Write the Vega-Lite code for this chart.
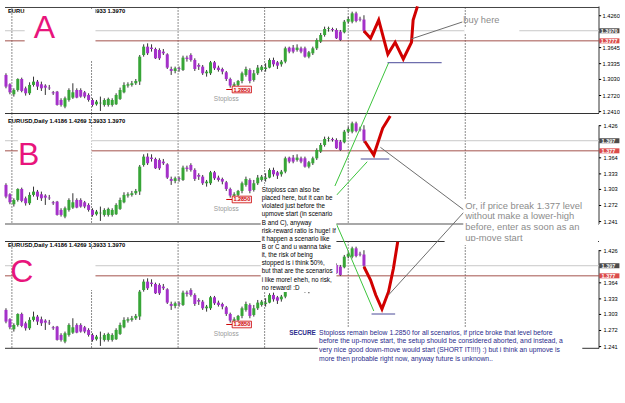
{
"$schema":"https://vega.github.io/schema/vega-lite/v6.json",
"padding":0,
"background":"white",
"spacing":0,
"bounds":"flush",
"config":{"view":{"stroke":null},"font":"Liberation Sans"},
"datasets":{
"seps":[{"i":2.5},{"i":22.75},{"i":44.75},{"i":66.75},{"i":88},{"i":117.75}],
"levels":[{"kind":"bid","p":1.397,"labA":"1.3970","lab":"1.397"},{"kind":"level","p":1.3775,"labA":"1.3777","lab":"1.377"}],
"axA":[{"p":1.426,"t":"1.4260"},{"p":1.3645,"t":"1.3645"},{"p":1.3335,"t":"1.3335"},{"p":1.303,"t":"1.3030"},{"p":1.272,"t":"1.2720"},{"p":1.241,"t":"1.2410"}],
"axBC":[{"p":1.426,"t":"1.426"},{"p":1.364,"t":"1.364"},{"p":1.333,"t":"1.333"},{"p":1.303,"t":"1.303"},{"p":1.272,"t":"1.272"},{"p":1.241,"t":"1.241"}],
"candles":[
{"i":1,"o":1.3117,"h":1.3149,"l":1.2859,"c":1.2892},
{"i":2,"o":1.2937,"h":1.2956,"l":1.2744,"c":1.2782},
{"i":3,"o":1.2744,"h":1.2859,"l":1.2699,"c":1.2827},
{"i":4,"o":1.2827,"h":1.3052,"l":1.2795,"c":1.3039},
{"i":5,"o":1.3039,"h":1.3065,"l":1.2782,"c":1.2808},
{"i":6,"o":1.2859,"h":1.2892,"l":1.2718,"c":1.2763},
{"i":7,"o":1.2763,"h":1.2975,"l":1.2731,"c":1.2924},
{"i":8,"o":1.2924,"h":1.3084,"l":1.2892,"c":1.2988},
{"i":9,"o":1.2988,"h":1.302,"l":1.2827,"c":1.2892},
{"i":10,"o":1.2937,"h":1.2988,"l":1.2808,"c":1.2859},
{"i":11,"o":1.2911,"h":1.2937,"l":1.2731,"c":1.2872},
{"i":12,"o":1.2872,"h":1.2924,"l":1.2827,"c":1.2859},
{"i":13,"o":1.2782,"h":1.2808,"l":1.2731,"c":1.2763},
{"i":14,"o":1.2795,"h":1.2808,"l":1.2525,"c":1.2538},
{"i":15,"o":1.2634,"h":1.2667,"l":1.2506,"c":1.2538},
{"i":16,"o":1.2506,"h":1.2699,"l":1.2474,"c":1.2667},
{"i":17,"o":1.2634,"h":1.2859,"l":1.2602,"c":1.2827},
{"i":18,"o":1.2679,"h":1.2956,"l":1.2654,"c":1.2782},
{"i":19,"o":1.2827,"h":1.2859,"l":1.2667,"c":1.2679},
{"i":20,"o":1.2827,"h":1.2859,"l":1.2679,"c":1.2699},
{"i":21,"o":1.2782,"h":1.2808,"l":1.2667,"c":1.2699},
{"i":22,"o":1.2731,"h":1.2763,"l":1.2602,"c":1.2634},
{"i":23,"o":1.2634,"h":1.2667,"l":1.2506,"c":1.2538},
{"i":24,"o":1.2551,"h":1.2634,"l":1.2525,"c":1.2602},
{"i":25,"o":1.257,"h":1.2699,"l":1.2422,"c":1.258},
{"i":26,"o":1.2538,"h":1.2667,"l":1.2506,"c":1.2634},
{"i":27,"o":1.2538,"h":1.2679,"l":1.2506,"c":1.2654},
{"i":28,"o":1.2538,"h":1.2667,"l":1.2506,"c":1.2634},
{"i":29,"o":1.2551,"h":1.2763,"l":1.2538,"c":1.2731},
{"i":30,"o":1.2654,"h":1.2872,"l":1.2634,"c":1.2827},
{"i":31,"o":1.2782,"h":1.2975,"l":1.2763,"c":1.2924},
{"i":32,"o":1.2911,"h":1.2975,"l":1.2872,"c":1.2937},
{"i":33,"o":1.2924,"h":1.3001,"l":1.2892,"c":1.2956},
{"i":34,"o":1.2956,"h":1.3039,"l":1.2924,"c":1.3001},
{"i":35,"o":1.299,"h":1.3502,"l":1.2924,"c":1.347},
{"i":36,"o":1.3502,"h":1.3708,"l":1.347,"c":1.3663},
{"i":37,"o":1.3663,"h":1.3727,"l":1.3502,"c":1.3535},
{"i":38,"o":1.3644,"h":1.3708,"l":1.3567,"c":1.3618},
{"i":39,"o":1.3618,"h":1.3644,"l":1.3425,"c":1.3438},
{"i":40,"o":1.3599,"h":1.3631,"l":1.3406,"c":1.3438},
{"i":41,"o":1.3567,"h":1.3618,"l":1.3502,"c":1.3535},
{"i":42,"o":1.3515,"h":1.3535,"l":1.3232,"c":1.3258},
{"i":43,"o":1.3232,"h":1.3277,"l":1.3117,"c":1.3194},
{"i":44,"o":1.3194,"h":1.3277,"l":1.3149,"c":1.3245},
{"i":45,"o":1.3245,"h":1.328,"l":1.318,"c":1.323},
{"i":46,"o":1.3213,"h":1.3489,"l":1.3194,"c":1.3451},
{"i":47,"o":1.3451,"h":1.3489,"l":1.3374,"c":1.3425},
{"i":48,"o":1.3502,"h":1.3535,"l":1.3374,"c":1.3406},
{"i":49,"o":1.3406,"h":1.3438,"l":1.3194,"c":1.3232},
{"i":50,"o":1.3309,"h":1.3342,"l":1.3213,"c":1.3277},
{"i":51,"o":1.3277,"h":1.3309,"l":1.3117,"c":1.3149},
{"i":52,"o":1.3149,"h":1.3213,"l":1.3084,"c":1.3181},
{"i":53,"o":1.3149,"h":1.3387,"l":1.3117,"c":1.3361},
{"i":54,"o":1.3361,"h":1.3387,"l":1.3213,"c":1.3245},
{"i":55,"o":1.3258,"h":1.3296,"l":1.3181,"c":1.3213},
{"i":56,"o":1.3232,"h":1.3258,"l":1.3129,"c":1.3181},
{"i":57,"o":1.3168,"h":1.3194,"l":1.3001,"c":1.3039},
{"i":58,"o":1.3039,"h":1.3065,"l":1.2872,"c":1.2911},
{"i":59,"o":1.2911,"h":1.2975,"l":1.285,"c":1.2937},
{"i":60,"o":1.2924,"h":1.302,"l":1.2892,"c":1.3001},
{"i":61,"o":1.3001,"h":1.3181,"l":1.2956,"c":1.3149},
{"i":62,"o":1.3117,"h":1.3277,"l":1.3084,"c":1.3232},
{"i":63,"o":1.3213,"h":1.3245,"l":1.2956,"c":1.3001},
{"i":64,"o":1.302,"h":1.3213,"l":1.2988,"c":1.3149},
{"i":65,"o":1.3149,"h":1.3309,"l":1.3117,"c":1.3258},
{"i":66,"o":1.3213,"h":1.3309,"l":1.3181,"c":1.3277},
{"i":67,"o":1.3232,"h":1.3342,"l":1.3181,"c":1.3258},
{"i":68,"o":1.3258,"h":1.3438,"l":1.3245,"c":1.3406},
{"i":69,"o":1.3406,"h":1.3451,"l":1.3277,"c":1.3322},
{"i":70,"o":1.3361,"h":1.3387,"l":1.3232,"c":1.3296},
{"i":71,"o":1.3322,"h":1.3406,"l":1.3277,"c":1.3374},
{"i":72,"o":1.3374,"h":1.3663,"l":1.3342,"c":1.3631},
{"i":73,"o":1.3644,"h":1.3663,"l":1.3535,"c":1.3567},
{"i":74,"o":1.3644,"h":1.3695,"l":1.3535,"c":1.3567},
{"i":75,"o":1.3599,"h":1.3708,"l":1.3567,"c":1.3644},
{"i":76,"o":1.3631,"h":1.3663,"l":1.3535,"c":1.3567},
{"i":77,"o":1.3631,"h":1.3663,"l":1.3451,"c":1.347},
{"i":78,"o":1.347,"h":1.358,"l":1.3438,"c":1.3554},
{"i":79,"o":1.3535,"h":1.3663,"l":1.3502,"c":1.3631},
{"i":80,"o":1.3631,"h":1.3824,"l":1.3599,"c":1.3792},
{"i":81,"o":1.376,"h":1.3927,"l":1.3733,"c":1.3888},
{"i":82,"o":1.3888,"h":1.4049,"l":1.3856,"c":1.4004},
{"i":83,"o":1.4004,"h":1.4049,"l":1.3953,"c":1.4017},
{"i":84,"o":1.4004,"h":1.403,"l":1.3953,"c":1.3985},
{"i":85,"o":1.3985,"h":1.4017,"l":1.3811,"c":1.3824},
{"i":86,"o":1.3953,"h":1.3985,"l":1.3772,"c":1.3792},
{"i":87,"o":1.394,"h":1.4178,"l":1.392,"c":1.4145},
{"i":88,"o":1.4145,"h":1.4242,"l":1.4113,"c":1.4197},
{"i":89,"o":1.4145,"h":1.4338,"l":1.4113,"c":1.4306},
{"i":90,"o":1.4306,"h":1.4338,"l":1.4132,"c":1.4158},
{"i":91,"o":1.42,"h":1.424,"l":1.415,"c":1.4186},
{"i":92,"o":1.4186,"h":1.4269,"l":1.3933,"c":1.397}
],
"red":[
{"panel":"A","k":1,"i":92,"p":1.3965},{"panel":"A","k":2,"i":93.68,"p":1.3824},{"panel":"A","k":3,"i":95.75,"p":1.4177},{"panel":"A","k":4,"i":98.08,"p":1.3515},{"panel":"A","k":5,"i":99.93,"p":1.3747},{"panel":"A","k":6,"i":102,"p":1.3425},{"panel":"A","k":7,"i":104.08,"p":1.3747},{"panel":"A","k":8,"i":104.5,"p":1.4177},{"panel":"A","k":9,"i":105.6,"p":1.444},
{"panel":"B","k":1,"i":92.2,"p":1.396},{"panel":"B","k":2,"i":94.5,"p":1.3695},{"panel":"B","k":3,"i":96.75,"p":1.421},{"panel":"B","k":4,"i":98.68,"p":1.4447},
{"panel":"C","k":1,"i":92,"p":1.3951},{"panel":"C","k":2,"i":93.68,"p":1.3695},{"panel":"C","k":3,"i":95,"p":1.3405},{"panel":"C","k":4,"i":96.58,"p":1.3135},{"panel":"C","k":5,"i":98.25,"p":1.3469},{"panel":"C","k":6,"i":99.5,"p":1.392},{"panel":"C","k":7,"i":100.58,"p":1.4434}
],
"segs":[
{"panel":"A","kind":"navy","i":98,"p":1.3353,"i2":111.75,"p2":1.3353},
{"panel":"A","kind":"green","i":98.25,"p":1.3348,"i2":92.75,"p2":1.23825},
{"panel":"A","kind":"gray","i":104,"p":1.3811,"i2":117,"p2":1.4139},
{"panel":"B","kind":"navy","i":91.18,"p":1.3617,"i2":98.43,"p2":1.3617},
{"panel":"B","kind":"green","i":92.75,"p":1.4505,"i2":84.5,"p2":1.3077},
{"panel":"B","kind":"green","i":92.83,"p":1.3565,"i2":85.08,"p2":1.2923},
{"panel":"B","kind":"green","i":85,"p":1.2363,"i2":86.9,"p2":1.2035},
{"panel":"B","kind":"gray","i":96.18,"p":1.3843,"i2":117.43,"p2":1.2633},
{"panel":"B","kind":"gray","i":117.43,"p":1.2594,"i2":110.75,"p2":1.2035},
{"panel":"C","kind":"navy","i":93.93,"p":1.3038,"i2":99.93,"p2":1.3038},
{"panel":"C","kind":"green","i":86.9,"p":1.4447,"i2":94.5,"p2":1.3096},
{"panel":"C","kind":"gray","i":110.75,"p":1.4447,"i2":98.25,"p2":1.3405}
]
},
"vconcat":[
{
"width":604,"height":108,
"data":{"values":[{}]},
"resolve":{"scale":{"color":"independent","size":"independent"}},
"layer":[
{"data":{"name":"seps"},"mark":{"type":"rule","color":"#1a1a1a","strokeDash":[1,2]},"encoding":{"x":{"field":"i","type":"quantitative","scale":{"domain":[0.75,151.75],"nice":false,"zero":false},"axis":null},"y":{"datum":1.44187,"type":"quantitative","scale":{"domain":[1.23825,1.44669],"nice":false,"zero":false},"axis":null},"y2":{"datum":1.23825}}},
{"mark":{"type":"rule","color":"#444"},"encoding":{"x":{"datum":0.75,"type":"quantitative","scale":{"domain":[0.75,151.75],"nice":false,"zero":false},"axis":null},"x2":{"datum":151.75},"y":{"datum":1.44187,"type":"quantitative","scale":{"domain":[1.23825,1.44669],"nice":false,"zero":false},"axis":null}}},
{"mark":{"type":"rule","color":"#333"},"encoding":{"x":{"datum":151.75,"type":"quantitative","scale":{"domain":[0.75,151.75],"nice":false,"zero":false},"axis":null},"y":{"datum":1.4438,"type":"quantitative","scale":{"domain":[1.23825,1.44669],"nice":false,"zero":false},"axis":null},"y2":{"datum":1.23825}}},
{"data":{"name":"axA"},"mark":{"type":"rule","color":"#000"},"encoding":{"x":{"datum":151.75,"type":"quantitative","scale":{"domain":[0.75,151.75],"nice":false,"zero":false},"axis":null},"x2":{"datum":152.3},"y":{"field":"p","type":"quantitative","scale":{"domain":[1.23825,1.44669],"nice":false,"zero":false},"axis":null}}},
{"data":{"name":"axA"},"mark":{"type":"text","fontSize":5.7,"color":"#000","align":"left","baseline":"middle"},"encoding":{"x":{"datum":152.65,"type":"quantitative","scale":{"domain":[0.75,151.75],"nice":false,"zero":false},"axis":null},"y":{"field":"p","type":"quantitative","scale":{"domain":[1.23825,1.44669],"nice":false,"zero":false},"axis":null},"text":{"field":"t"}}},
{"data":{"name":"levels"},"mark":{"type":"rule"},"encoding":{"x":{"datum":0.75,"type":"quantitative","scale":{"domain":[0.75,151.75],"nice":false,"zero":false},"axis":null},"x2":{"datum":151.75},"y":{"field":"p","type":"quantitative","scale":{"domain":[1.23825,1.44669],"nice":false,"zero":false},"axis":null},"color":{"field":"kind","type":"nominal","scale":{"domain":["bid","level"],"range":["#c8c8c8","#a3524c"]},"legend":null}}},
{"data":{"name":"candles"},"mark":{"type":"rule","color":"#333"},"encoding":{"x":{"field":"i","type":"quantitative","scale":{"domain":[0.75,151.75],"nice":false,"zero":false},"axis":null},"y":{"field":"l","type":"quantitative","scale":{"domain":[1.23825,1.44669],"nice":false,"zero":false},"axis":null},"y2":{"field":"h"}}},
{"data":{"name":"candles"},"mark":{"type":"bar","size":3},"encoding":{"x":{"field":"i","type":"quantitative","scale":{"domain":[0.75,151.75],"nice":false,"zero":false},"axis":null},"y":{"field":"o","type":"quantitative","scale":{"domain":[1.23825,1.44669],"nice":false,"zero":false},"axis":null},"y2":{"field":"c"},"color":{"condition":{"test":"datum.c >= datum.o","value":"#37a537"},"value":"#a431c9"}}},
{"data":{"name":"red"},"transform":[{"filter":"datum.panel === 'A'"}],"mark":{"type":"line","color":"#d10000","strokeWidth":3},"encoding":{"x":{"field":"i","type":"quantitative","scale":{"domain":[0.75,151.75],"nice":false,"zero":false},"axis":null},"y":{"field":"p","type":"quantitative","scale":{"domain":[1.23825,1.44669],"nice":false,"zero":false},"axis":null},"order":{"field":"k"}}},
{"data":{"name":"segs"},"transform":[{"filter":"datum.panel === 'A'"}],"mark":{"type":"rule"},"encoding":{"x":{"field":"i","type":"quantitative","scale":{"domain":[0.75,151.75],"nice":false,"zero":false},"axis":null},"x2":{"field":"i2"},"y":{"field":"p","type":"quantitative","scale":{"domain":[1.23825,1.44669],"nice":false,"zero":false},"axis":null},"y2":{"field":"p2"},"color":{"field":"kind","type":"nominal","scale":{"domain":["green","gray","navy"],"range":["#3cc43c","#6e6e6e","#4a4a98"]},"legend":null},"size":{"field":"kind","type":"ordinal","scale":{"domain":["green","gray","navy"],"range":[1,1,2]},"legend":null}}},
{"mark":{"type":"text","fontSize":6.5,"color":"#9a9a9a","align":"center","baseline":"middle"},"encoding":{"x":{"datum":57,"type":"quantitative","scale":{"domain":[0.75,151.75],"nice":false,"zero":false},"axis":null},"y":{"datum":1.2652,"type":"quantitative","scale":{"domain":[1.23825,1.44669],"nice":false,"zero":false},"axis":null},"text":{"value":"Stoploss"}}},
{"mark":{"type":"rule","color":"#cc0000"},"encoding":{"x":{"datum":57,"type":"quantitative","scale":{"domain":[0.75,151.75],"nice":false,"zero":false},"axis":null},"x2":{"datum":58.5},"y":{"datum":1.2836,"type":"quantitative","scale":{"domain":[1.23825,1.44669],"nice":false,"zero":false},"axis":null}}},
{"mark":{"type":"rect","fill":"#fff0f0","stroke":"#cc0000","strokeWidth":0.8},"encoding":{"x":{"datum":58.5,"type":"quantitative","scale":{"domain":[0.75,151.75],"nice":false,"zero":false},"axis":null},"x2":{"datum":63.4},"y":{"datum":1.29,"type":"quantitative","scale":{"domain":[1.23825,1.44669],"nice":false,"zero":false},"axis":null},"y2":{"datum":1.2772}}},
{"mark":{"type":"text","fontSize":5.5,"fontWeight":"bold","color":"#cc0000","align":"center","baseline":"middle"},"encoding":{"x":{"datum":60.95,"type":"quantitative","scale":{"domain":[0.75,151.75],"nice":false,"zero":false},"axis":null},"y":{"datum":1.2836,"type":"quantitative","scale":{"domain":[1.23825,1.44669],"nice":false,"zero":false},"axis":null},"text":{"value":"1.2850"}}},
{"mark":{"type":"text","fontSize":5.8,"fontWeight":"bold","color":"#000","align":"left","baseline":"middle"},"encoding":{"x":{"datum":1.5,"type":"quantitative","scale":{"domain":[0.75,151.75],"nice":false,"zero":false},"axis":null},"y":{"datum":1.43511,"type":"quantitative","scale":{"domain":[1.23825,1.44669],"nice":false,"zero":false},"axis":null},"text":{"value":"EURUSD,Daily 1.4186 1.4269 1.3933 1.3970"}}},
{"mark":{"type":"rect","fill":"white"},"encoding":{"x":{"datum":5.75,"type":"quantitative","scale":{"domain":[0.75,151.75],"nice":false,"zero":false},"axis":null},"x2":{"datum":23.75},"y":{"datum":1.43897,"type":"quantitative","scale":{"domain":[1.23825,1.44669],"nice":false,"zero":false},"axis":null},"y2":{"datum":1.3405}}},
{"mark":{"type":"rect","fill":"white"},"encoding":{"x":{"datum":117.5,"type":"quantitative","scale":{"domain":[0.75,151.75],"nice":false,"zero":false},"axis":null},"x2":{"datum":131.5},"y":{"datum":1.4023,"type":"quantitative","scale":{"domain":[1.23825,1.44669],"nice":false,"zero":false},"axis":null},"y2":{"datum":1.3907}}},
{"mark":{"type":"text","fontSize":32,"color":"#e8157c","align":"center","baseline":"alphabetic"},"encoding":{"x":{"datum":10.75,"type":"quantitative","scale":{"domain":[0.75,151.75],"nice":false,"zero":false},"axis":null},"y":{"datum":1.383,"type":"quantitative","scale":{"domain":[1.23825,1.44669],"nice":false,"zero":false},"axis":null},"text":{"value":"A"}}},
{"mark":{"type":"text","fontSize":9.3,"color":"#8c8c8c","align":"left","baseline":"middle"},"encoding":{"x":{"datum":117.25,"type":"quantitative","scale":{"domain":[0.75,151.75],"nice":false,"zero":false},"axis":null},"y":{"datum":1.41774,"type":"quantitative","scale":{"domain":[1.23825,1.44669],"nice":false,"zero":false},"axis":null},"text":{"value":"buy here"}}},
{"data":{"name":"levels"},"mark":{"type":"tick","orient":"horizontal","size":20,"thickness":5},"encoding":{"x":{"datum":154.4,"type":"quantitative","scale":{"domain":[0.75,151.75],"nice":false,"zero":false},"axis":null},"y":{"field":"p","type":"quantitative","scale":{"domain":[1.23825,1.44669],"nice":false,"zero":false},"axis":null},"color":{"field":"kind","type":"nominal","scale":{"domain":["bid","level"],"range":["#000000","#cc0000"]},"legend":null}}},
{"data":{"name":"levels"},"mark":{"type":"text","fontSize":5.5,"fontWeight":"bold","color":"white","align":"left","baseline":"middle"},"encoding":{"x":{"datum":152.2,"type":"quantitative","scale":{"domain":[0.75,151.75],"nice":false,"zero":false},"axis":null},"y":{"field":"p","type":"quantitative","scale":{"domain":[1.23825,1.44669],"nice":false,"zero":false},"axis":null},"text":{"field":"labA"}}}
]
},
{
"width":604,"height":128,
"data":{"values":[{}]},
"resolve":{"scale":{"color":"independent","size":"independent"}},
"layer":[
{"data":{"name":"seps"},"mark":{"type":"rule","color":"#1a1a1a","strokeDash":[1,2]},"encoding":{"x":{"field":"i","type":"quantitative","scale":{"domain":[0.75,151.75],"nice":false,"zero":false},"axis":null},"y":{"datum":1.44954,"type":"quantitative","scale":{"domain":[1.20347,1.45051],"nice":false,"zero":false},"axis":null},"y2":{"datum":1.23628}}},
{"mark":{"type":"rule","color":"#333"},"encoding":{"x":{"datum":0.75,"type":"quantitative","scale":{"domain":[0.75,151.75],"nice":false,"zero":false},"axis":null},"x2":{"datum":151.75},"y":{"datum":1.44954,"type":"quantitative","scale":{"domain":[1.20347,1.45051],"nice":false,"zero":false},"axis":null}}},
{"mark":{"type":"rule","color":"#333"},"encoding":{"x":{"datum":151.75,"type":"quantitative","scale":{"domain":[0.75,151.75],"nice":false,"zero":false},"axis":null},"y":{"datum":1.42677,"type":"quantitative","scale":{"domain":[1.20347,1.45051],"nice":false,"zero":false},"axis":null},"y2":{"datum":1.23628}}},
{"mark":{"type":"rule","color":"#a8a8a8","strokeWidth":2},"encoding":{"x":{"datum":0.75,"type":"quantitative","scale":{"domain":[0.75,151.75],"nice":false,"zero":false},"axis":null},"x2":{"datum":151.75},"y":{"datum":1.23628,"type":"quantitative","scale":{"domain":[1.20347,1.45051],"nice":false,"zero":false},"axis":null}}},
{"data":{"name":"axBC"},"mark":{"type":"rule","color":"#000"},"encoding":{"x":{"datum":151.75,"type":"quantitative","scale":{"domain":[0.75,151.75],"nice":false,"zero":false},"axis":null},"x2":{"datum":152.3},"y":{"field":"p","type":"quantitative","scale":{"domain":[1.20347,1.45051],"nice":false,"zero":false},"axis":null}}},
{"data":{"name":"axBC"},"mark":{"type":"text","fontSize":5.7,"color":"#000","align":"left","baseline":"middle"},"encoding":{"x":{"datum":152.9,"type":"quantitative","scale":{"domain":[0.75,151.75],"nice":false,"zero":false},"axis":null},"y":{"field":"p","type":"quantitative","scale":{"domain":[1.20347,1.45051],"nice":false,"zero":false},"axis":null},"text":{"field":"t"}}},
{"data":{"name":"levels"},"mark":{"type":"rule"},"encoding":{"x":{"datum":0.75,"type":"quantitative","scale":{"domain":[0.75,151.75],"nice":false,"zero":false},"axis":null},"x2":{"datum":151.75},"y":{"field":"p","type":"quantitative","scale":{"domain":[1.20347,1.45051],"nice":false,"zero":false},"axis":null},"color":{"field":"kind","type":"nominal","scale":{"domain":["bid","level"],"range":["#c8c8c8","#a3524c"]},"legend":null}}},
{"data":{"name":"candles"},"mark":{"type":"rule","color":"#333"},"encoding":{"x":{"field":"i","type":"quantitative","scale":{"domain":[0.75,151.75],"nice":false,"zero":false},"axis":null},"y":{"field":"l","type":"quantitative","scale":{"domain":[1.20347,1.45051],"nice":false,"zero":false},"axis":null},"y2":{"field":"h"}}},
{"data":{"name":"candles"},"mark":{"type":"bar","size":3},"encoding":{"x":{"field":"i","type":"quantitative","scale":{"domain":[0.75,151.75],"nice":false,"zero":false},"axis":null},"y":{"field":"o","type":"quantitative","scale":{"domain":[1.20347,1.45051],"nice":false,"zero":false},"axis":null},"y2":{"field":"c"},"color":{"condition":{"test":"datum.c >= datum.o","value":"#37a537"},"value":"#a431c9"}}},
{"data":{"name":"red"},"transform":[{"filter":"datum.panel === 'B'"}],"mark":{"type":"line","color":"#d10000","strokeWidth":3},"encoding":{"x":{"field":"i","type":"quantitative","scale":{"domain":[0.75,151.75],"nice":false,"zero":false},"axis":null},"y":{"field":"p","type":"quantitative","scale":{"domain":[1.20347,1.45051],"nice":false,"zero":false},"axis":null},"order":{"field":"k"}}},
{"data":{"name":"segs"},"transform":[{"filter":"datum.panel === 'B'"}],"mark":{"type":"rule"},"encoding":{"x":{"field":"i","type":"quantitative","scale":{"domain":[0.75,151.75],"nice":false,"zero":false},"axis":null},"x2":{"field":"i2"},"y":{"field":"p","type":"quantitative","scale":{"domain":[1.20347,1.45051],"nice":false,"zero":false},"axis":null},"y2":{"field":"p2"},"color":{"field":"kind","type":"nominal","scale":{"domain":["green","gray","navy"],"range":["#3cc43c","#6e6e6e","#4a4a98"]},"legend":null},"size":{"field":"kind","type":"ordinal","scale":{"domain":["green","gray","navy"],"range":[1,1,2]},"legend":null}}},
{"mark":{"type":"text","fontSize":6.5,"color":"#9a9a9a","align":"center","baseline":"middle"},"encoding":{"x":{"datum":57,"type":"quantitative","scale":{"domain":[0.75,151.75],"nice":false,"zero":false},"axis":null},"y":{"datum":1.2652,"type":"quantitative","scale":{"domain":[1.20347,1.45051],"nice":false,"zero":false},"axis":null},"text":{"value":"Stoploss"}}},
{"mark":{"type":"rule","color":"#cc0000"},"encoding":{"x":{"datum":57,"type":"quantitative","scale":{"domain":[0.75,151.75],"nice":false,"zero":false},"axis":null},"x2":{"datum":58.5},"y":{"datum":1.2836,"type":"quantitative","scale":{"domain":[1.20347,1.45051],"nice":false,"zero":false},"axis":null}}},
{"mark":{"type":"rect","fill":"#fff0f0","stroke":"#cc0000","strokeWidth":0.8},"encoding":{"x":{"datum":58.5,"type":"quantitative","scale":{"domain":[0.75,151.75],"nice":false,"zero":false},"axis":null},"x2":{"datum":63.4},"y":{"datum":1.29,"type":"quantitative","scale":{"domain":[1.20347,1.45051],"nice":false,"zero":false},"axis":null},"y2":{"datum":1.2772}}},
{"mark":{"type":"text","fontSize":5.5,"fontWeight":"bold","color":"#cc0000","align":"center","baseline":"middle"},"encoding":{"x":{"datum":60.95,"type":"quantitative","scale":{"domain":[0.75,151.75],"nice":false,"zero":false},"axis":null},"y":{"datum":1.2836,"type":"quantitative","scale":{"domain":[1.20347,1.45051],"nice":false,"zero":false},"axis":null},"text":{"value":"1.2850"}}},
{"mark":{"type":"text","fontSize":5.8,"fontWeight":"bold","color":"#000","align":"left","baseline":"middle"},"encoding":{"x":{"datum":1.5,"type":"quantitative","scale":{"domain":[0.75,151.75],"nice":false,"zero":false},"axis":null},"y":{"datum":1.43507,"type":"quantitative","scale":{"domain":[1.20347,1.45051],"nice":false,"zero":false},"axis":null},"text":{"value":"EURUSD,Daily 1.4186 1.4269 1.3933 1.3970"}}},
{"mark":{"type":"rect","fill":"white"},"encoding":{"x":{"datum":4,"type":"quantitative","scale":{"domain":[0.75,151.75],"nice":false,"zero":false},"axis":null},"x2":{"datum":22.75},"y":{"datum":1.4235,"type":"quantitative","scale":{"domain":[1.20347,1.45051],"nice":false,"zero":false},"axis":null},"y2":{"datum":1.3308}}},
{"mark":{"type":"rect","fill":"white"},"encoding":{"x":{"datum":65.75,"type":"quantitative","scale":{"domain":[0.75,151.75],"nice":false,"zero":false},"axis":null},"x2":{"datum":85},"y":{"datum":1.30962,"type":"quantitative","scale":{"domain":[1.20347,1.45051],"nice":false,"zero":false},"axis":null},"y2":{"datum":1.20347}}},
{"mark":{"type":"rect","fill":"white"},"encoding":{"x":{"datum":117.25,"type":"quantitative","scale":{"domain":[0.75,151.75],"nice":false,"zero":false},"axis":null},"x2":{"datum":151.5},"y":{"datum":1.28453,"type":"quantitative","scale":{"domain":[1.20347,1.45051],"nice":false,"zero":false},"axis":null},"y2":{"datum":1.20347}}},
{"mark":{"type":"text","fontSize":32,"color":"#e8157c","align":"center","baseline":"alphabetic"},"encoding":{"x":{"datum":6.75,"type":"quantitative","scale":{"domain":[0.75,151.75],"nice":false,"zero":false},"axis":null},"y":{"datum":1.35015,"type":"quantitative","scale":{"domain":[1.20347,1.45051],"nice":false,"zero":false},"axis":null},"text":{"value":"B"}}},
{"mark":{"type":"text","fontSize":6.3,"color":"#000","align":"left","baseline":"top","lineHeight":8.14},"encoding":{"x":{"datum":66,"type":"quantitative","scale":{"domain":[0.75,151.75],"nice":false,"zero":false},"axis":null},"y":{"datum":1.30769,"type":"quantitative","scale":{"domain":[1.20347,1.45051],"nice":false,"zero":false},"axis":null},"text":{"value":["Stoploss can also be","placed here, but it can be","violated just before the","upmove start (in scenario","B and C), anyway","risk-reward ratio is huge! If"]}}},
{"mark":{"type":"text","fontSize":9.4,"color":"#8c8c8c","align":"left","baseline":"top","lineHeight":10.6},"encoding":{"x":{"datum":117.75,"type":"quantitative","scale":{"domain":[0.75,151.75],"nice":false,"zero":false},"axis":null},"y":{"datum":1.2793,"type":"quantitative","scale":{"domain":[1.20347,1.45051],"nice":false,"zero":false},"axis":null},"text":{"value":["Or, if price break 1.377 level","without make a lower-high","before, enter as soon as an","up-move start"]}}},
{"data":{"name":"levels"},"mark":{"type":"tick","orient":"horizontal","size":20,"thickness":5},"encoding":{"x":{"datum":154.4,"type":"quantitative","scale":{"domain":[0.75,151.75],"nice":false,"zero":false},"axis":null},"y":{"field":"p","type":"quantitative","scale":{"domain":[1.20347,1.45051],"nice":false,"zero":false},"axis":null},"color":{"field":"kind","type":"nominal","scale":{"domain":["bid","level"],"range":["#000000","#cc0000"]},"legend":null}}},
{"data":{"name":"levels"},"mark":{"type":"text","fontSize":5.5,"fontWeight":"bold","color":"white","align":"left","baseline":"middle"},"encoding":{"x":{"datum":152.4,"type":"quantitative","scale":{"domain":[0.75,151.75],"nice":false,"zero":false},"axis":null},"y":{"field":"p","type":"quantitative","scale":{"domain":[1.20347,1.45051],"nice":false,"zero":false},"axis":null},"text":{"field":"lab"}}}
]
},
{
"width":604,"height":167,
"data":{"values":[{}]},
"resolve":{"scale":{"color":"independent","size":"independent"}},
"layer":[
{"data":{"name":"seps"},"mark":{"type":"rule","color":"#1a1a1a","strokeDash":[1,2]},"encoding":{"x":{"field":"i","type":"quantitative","scale":{"domain":[0.75,151.75],"nice":false,"zero":false},"axis":null},"y":{"datum":1.44375,"type":"quantitative","scale":{"domain":[1.12241,1.44472],"nice":false,"zero":false},"axis":null},"y2":{"datum":1.23763}}},
{"mark":{"type":"rule","color":"#333"},"encoding":{"x":{"datum":0.75,"type":"quantitative","scale":{"domain":[0.75,151.75],"nice":false,"zero":false},"axis":null},"x2":{"datum":151.75},"y":{"datum":1.44375,"type":"quantitative","scale":{"domain":[1.12241,1.44472],"nice":false,"zero":false},"axis":null}}},
{"mark":{"type":"rule","color":"#333"},"encoding":{"x":{"datum":151.75,"type":"quantitative","scale":{"domain":[0.75,151.75],"nice":false,"zero":false},"axis":null},"y":{"datum":1.42735,"type":"quantitative","scale":{"domain":[1.12241,1.44472],"nice":false,"zero":false},"axis":null},"y2":{"datum":1.23763}}},
{"mark":{"type":"rule","color":"#333"},"encoding":{"x":{"datum":0.75,"type":"quantitative","scale":{"domain":[0.75,151.75],"nice":false,"zero":false},"axis":null},"x2":{"datum":151.75},"y":{"datum":1.23763,"type":"quantitative","scale":{"domain":[1.12241,1.44472],"nice":false,"zero":false},"axis":null}}},
{"data":{"name":"axBC"},"mark":{"type":"rule","color":"#000"},"encoding":{"x":{"datum":151.75,"type":"quantitative","scale":{"domain":[0.75,151.75],"nice":false,"zero":false},"axis":null},"x2":{"datum":152.3},"y":{"field":"p","type":"quantitative","scale":{"domain":[1.12241,1.44472],"nice":false,"zero":false},"axis":null}}},
{"data":{"name":"axBC"},"mark":{"type":"text","fontSize":5.7,"color":"#000","align":"left","baseline":"middle"},"encoding":{"x":{"datum":152.9,"type":"quantitative","scale":{"domain":[0.75,151.75],"nice":false,"zero":false},"axis":null},"y":{"field":"p","type":"quantitative","scale":{"domain":[1.12241,1.44472],"nice":false,"zero":false},"axis":null},"text":{"field":"t"}}},
{"data":{"name":"levels"},"mark":{"type":"rule"},"encoding":{"x":{"datum":0.75,"type":"quantitative","scale":{"domain":[0.75,151.75],"nice":false,"zero":false},"axis":null},"x2":{"datum":151.75},"y":{"field":"p","type":"quantitative","scale":{"domain":[1.12241,1.44472],"nice":false,"zero":false},"axis":null},"color":{"field":"kind","type":"nominal","scale":{"domain":["bid","level"],"range":["#c8c8c8","#a3524c"]},"legend":null}}},
{"data":{"name":"candles"},"mark":{"type":"rule","color":"#333"},"encoding":{"x":{"field":"i","type":"quantitative","scale":{"domain":[0.75,151.75],"nice":false,"zero":false},"axis":null},"y":{"field":"l","type":"quantitative","scale":{"domain":[1.12241,1.44472],"nice":false,"zero":false},"axis":null},"y2":{"field":"h"}}},
{"data":{"name":"candles"},"mark":{"type":"bar","size":3},"encoding":{"x":{"field":"i","type":"quantitative","scale":{"domain":[0.75,151.75],"nice":false,"zero":false},"axis":null},"y":{"field":"o","type":"quantitative","scale":{"domain":[1.12241,1.44472],"nice":false,"zero":false},"axis":null},"y2":{"field":"c"},"color":{"condition":{"test":"datum.c >= datum.o","value":"#37a537"},"value":"#a431c9"}}},
{"data":{"name":"red"},"transform":[{"filter":"datum.panel === 'C'"}],"mark":{"type":"line","color":"#d10000","strokeWidth":3},"encoding":{"x":{"field":"i","type":"quantitative","scale":{"domain":[0.75,151.75],"nice":false,"zero":false},"axis":null},"y":{"field":"p","type":"quantitative","scale":{"domain":[1.12241,1.44472],"nice":false,"zero":false},"axis":null},"order":{"field":"k"}}},
{"data":{"name":"segs"},"transform":[{"filter":"datum.panel === 'C'"}],"mark":{"type":"rule"},"encoding":{"x":{"field":"i","type":"quantitative","scale":{"domain":[0.75,151.75],"nice":false,"zero":false},"axis":null},"x2":{"field":"i2"},"y":{"field":"p","type":"quantitative","scale":{"domain":[1.12241,1.44472],"nice":false,"zero":false},"axis":null},"y2":{"field":"p2"},"color":{"field":"kind","type":"nominal","scale":{"domain":["green","gray","navy"],"range":["#3cc43c","#6e6e6e","#4a4a98"]},"legend":null},"size":{"field":"kind","type":"ordinal","scale":{"domain":["green","gray","navy"],"range":[1,1,2]},"legend":null}}},
{"mark":{"type":"text","fontSize":6.5,"color":"#9a9a9a","align":"center","baseline":"middle"},"encoding":{"x":{"datum":57,"type":"quantitative","scale":{"domain":[0.75,151.75],"nice":false,"zero":false},"axis":null},"y":{"datum":1.2652,"type":"quantitative","scale":{"domain":[1.12241,1.44472],"nice":false,"zero":false},"axis":null},"text":{"value":"Stoploss"}}},
{"mark":{"type":"rule","color":"#cc0000"},"encoding":{"x":{"datum":57,"type":"quantitative","scale":{"domain":[0.75,151.75],"nice":false,"zero":false},"axis":null},"x2":{"datum":58.5},"y":{"datum":1.2836,"type":"quantitative","scale":{"domain":[1.12241,1.44472],"nice":false,"zero":false},"axis":null}}},
{"mark":{"type":"rect","fill":"#fff0f0","stroke":"#cc0000","strokeWidth":0.8},"encoding":{"x":{"datum":58.5,"type":"quantitative","scale":{"domain":[0.75,151.75],"nice":false,"zero":false},"axis":null},"x2":{"datum":63.4},"y":{"datum":1.29,"type":"quantitative","scale":{"domain":[1.12241,1.44472],"nice":false,"zero":false},"axis":null},"y2":{"datum":1.2772}}},
{"mark":{"type":"text","fontSize":5.5,"fontWeight":"bold","color":"#cc0000","align":"center","baseline":"middle"},"encoding":{"x":{"datum":60.95,"type":"quantitative","scale":{"domain":[0.75,151.75],"nice":false,"zero":false},"axis":null},"y":{"datum":1.2836,"type":"quantitative","scale":{"domain":[1.12241,1.44472],"nice":false,"zero":false},"axis":null},"text":{"value":"1.2850"}}},
{"mark":{"type":"text","fontSize":5.8,"fontWeight":"bold","color":"#000","align":"left","baseline":"middle"},"encoding":{"x":{"datum":1.5,"type":"quantitative","scale":{"domain":[0.75,151.75],"nice":false,"zero":false},"axis":null},"y":{"datum":1.437,"type":"quantitative","scale":{"domain":[1.12241,1.44472],"nice":false,"zero":false},"axis":null},"text":{"value":"EURUSD,Daily 1.4186 1.4269 1.3933 1.3970"}}},
{"mark":{"type":"rect","fill":"white"},"encoding":{"x":{"datum":3,"type":"quantitative","scale":{"domain":[0.75,151.75],"nice":false,"zero":false},"axis":null},"x2":{"datum":23.75},"y":{"datum":1.4274,"type":"quantitative","scale":{"domain":[1.12241,1.44472],"nice":false,"zero":false},"axis":null},"y2":{"datum":1.3502}}},
{"mark":{"type":"rect","fill":"white"},"encoding":{"x":{"datum":65.75,"type":"quantitative","scale":{"domain":[0.75,151.75],"nice":false,"zero":false},"axis":null},"x2":{"datum":85},"y":{"datum":1.44472,"type":"quantitative","scale":{"domain":[1.12241,1.44472],"nice":false,"zero":false},"axis":null},"y2":{"datum":1.34629}}},
{"mark":{"type":"rect","fill":"white"},"encoding":{"x":{"datum":112.5,"type":"quantitative","scale":{"domain":[0.75,151.75],"nice":false,"zero":false},"axis":null},"x2":{"datum":151.5},"y":{"datum":1.44472,"type":"quantitative","scale":{"domain":[1.12241,1.44472],"nice":false,"zero":false},"axis":null},"y2":{"datum":1.437}}},
{"mark":{"type":"rect","fill":"white"},"encoding":{"x":{"datum":80.25,"type":"quantitative","scale":{"domain":[0.75,151.75],"nice":false,"zero":false},"axis":null},"x2":{"datum":147.5},"y":{"datum":1.27874,"type":"quantitative","scale":{"domain":[1.12241,1.44472],"nice":false,"zero":false},"axis":null},"y2":{"datum":1.2054}}},
{"mark":{"type":"text","fontSize":32,"color":"#e8157c","align":"center","baseline":"alphabetic"},"encoding":{"x":{"datum":5,"type":"quantitative","scale":{"domain":[0.75,151.75],"nice":false,"zero":false},"axis":null},"y":{"datum":1.36559,"type":"quantitative","scale":{"domain":[1.12241,1.44472],"nice":false,"zero":false},"axis":null},"text":{"value":"C"}}},
{"mark":{"type":"text","fontSize":6.3,"color":"#000","align":"left","baseline":"top","lineHeight":8.14},"encoding":{"x":{"datum":66,"type":"quantitative","scale":{"domain":[0.75,151.75],"nice":false,"zero":false},"axis":null},"y":{"datum":1.45468,"type":"quantitative","scale":{"domain":[1.12241,1.44472],"nice":false,"zero":false},"axis":null},"text":{"value":["it happen a scenario like","B or C and u wanna take","it, the risk of being","stopped is i think 50%,","but that are the scenarios","i like more! eheh, no risk,","no reward! :D"]}}},
{"mark":{"type":"text","fontSize":6.4,"fontWeight":"bold","color":"#2b2b8c","align":"left","baseline":"top"},"encoding":{"x":{"datum":73.0,"type":"quantitative","scale":{"domain":[0.75,151.75],"nice":false,"zero":false},"axis":null},"y":{"datum":1.27334,"type":"quantitative","scale":{"domain":[1.12241,1.44472],"nice":false,"zero":false},"axis":null},"text":{"value":"SECURE"}}},
{"mark":{"type":"text","fontSize":6.8,"color":"#2b2b8c","align":"left","baseline":"top","lineHeight":8.6},"encoding":{"x":{"datum":80.6,"type":"quantitative","scale":{"domain":[0.75,151.75],"nice":false,"zero":false},"axis":null},"y":{"datum":1.27334,"type":"quantitative","scale":{"domain":[1.12241,1.44472],"nice":false,"zero":false},"axis":null},"text":{"value":["Stoploss remain below 1.2850 for all scenarios, if price broke that level before","before the up-move start, the setup should be considered aborted, and instead, a","very nice good down-move would start (SHORT IT!!!!) :)  but i think an upmove is","more then probable right now, anyway future is unknown.."]}}},
{"data":{"name":"levels"},"mark":{"type":"tick","orient":"horizontal","size":20,"thickness":5},"encoding":{"x":{"datum":154.4,"type":"quantitative","scale":{"domain":[0.75,151.75],"nice":false,"zero":false},"axis":null},"y":{"field":"p","type":"quantitative","scale":{"domain":[1.12241,1.44472],"nice":false,"zero":false},"axis":null},"color":{"field":"kind","type":"nominal","scale":{"domain":["bid","level"],"range":["#000000","#cc0000"]},"legend":null}}},
{"data":{"name":"levels"},"mark":{"type":"text","fontSize":5.5,"fontWeight":"bold","color":"white","align":"left","baseline":"middle"},"encoding":{"x":{"datum":152.4,"type":"quantitative","scale":{"domain":[0.75,151.75],"nice":false,"zero":false},"axis":null},"y":{"field":"p","type":"quantitative","scale":{"domain":[1.12241,1.44472],"nice":false,"zero":false},"axis":null},"text":{"field":"lab"}}}
]
}
]
}
